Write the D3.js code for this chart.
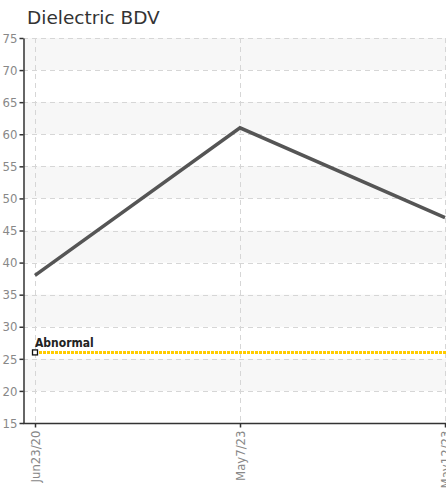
<!DOCTYPE html>
<html><head><meta charset="utf-8">
<script src="https://cdn.jsdelivr.net/npm/d3@7"></script>
<style>body{margin:0;background:#fff;overflow:hidden}</style>
</head><body>
<svg id="c" width="446" height="488"></svg>
<script>
const categories = ["Jun23/20", "May7/23", "May12/23"];
const values = [38, 61, 47];
const yTicks = [15, 20, 25, 30, 35, 40, 45, 50, 55, 60, 65, 70, 75];
const thresholdLabel = "Abnormal";
const thresholdValue = 26;
const title = "Dielectric BDV";

const svg = d3.select("#c");
const mLeft = 23, mRight = 446, mTop = 38, mBottom = 423;
const x = d3.scalePoint().domain(categories).range([35, 445]);
const y = d3.scaleLinear().domain([15, 75]).range([mBottom, mTop]);
const tickFont = "'Liberation Sans Narrow', 'DejaVu Sans Condensed', sans-serif";

svg.append("text").attr("x", 27).attr("y", 24).text(title)
  .attr("font-family", "'DejaVu Sans', sans-serif").attr("font-size", 18.5).attr("fill", "#333");

// alternating bands
const bands = svg.append("g");
for (let i = 0; i < yTicks.length - 1; i++) {
  const lo = yTicks[i], hi = yTicks[i + 1];
  if (i % 2 === 1) {
    bands.append("rect").attr("x", mLeft).attr("width", mRight - mLeft)
      .attr("y", y(hi)).attr("height", y(lo) - y(hi)).attr("fill", "#f7f7f7");
  }
}

// grid
const grid = svg.append("g").attr("stroke", "#d6d6d6").attr("stroke-dasharray", "5,4").attr("stroke-width", 1);
yTicks.slice(1).forEach(t => grid.append("line").attr("x1", mLeft).attr("x2", mRight)
  .attr("y1", Math.round(y(t)) + 0.5).attr("y2", Math.round(y(t)) + 0.5));
categories.forEach(c => grid.append("line").attr("x1", Math.round(x(c)) + 0.5).attr("x2", Math.round(x(c)) + 0.5)
  .attr("y1", mTop).attr("y2", mBottom));

// y axis
const ya = svg.append("g").attr("transform", `translate(${mLeft + 0.5},0)`)
  .call(d3.axisLeft(y).tickValues(yTicks).tickSize(4).tickSizeOuter(0).tickPadding(2));
ya.select(".domain").attr("stroke", "#333").attr("stroke-width", 1.5);
ya.selectAll(".tick line").attr("stroke", "#333").attr("stroke-width", 1.5);
ya.selectAll("text").attr("font-family", tickFont).attr("font-size", 13).attr("fill", "#888");

// x axis
const xa = svg.append("g").attr("transform", `translate(0,${mBottom + 0.5})`)
  .call(d3.axisBottom(x).tickSize(4).tickSizeOuter(0));
xa.select(".domain").attr("d", `M${mLeft},0H${mRight}`).attr("stroke", "#333").attr("stroke-width", 1.5);
xa.selectAll(".tick line").attr("stroke", "#333").attr("stroke-width", 1.5);
xa.selectAll("text").attr("font-family", tickFont).attr("font-size", 13).attr("fill", "#888")
  .attr("transform", "rotate(-90)").attr("text-anchor", "end").attr("x", -7).attr("y", 0).attr("dy", "0.35em");

// threshold
svg.append("line").attr("x1", x(categories[0])).attr("x2", mRight)
  .attr("y1", y(thresholdValue)).attr("y2", y(thresholdValue))
  .attr("stroke", "#ffcc00").attr("stroke-width", 3).attr("stroke-dasharray", "3,1");
svg.append("rect").attr("x", x(categories[0]) - 2.5).attr("y", y(thresholdValue) - 2.5)
  .attr("width", 5).attr("height", 5).attr("fill", "#fff").attr("stroke", "#111").attr("stroke-width", 1.3);
svg.append("text").attr("x", x(categories[0])).attr("y", y(thresholdValue) - 5).text(thresholdLabel)
  .attr("font-family", tickFont).attr("font-size", 12).attr("font-weight", "bold").attr("fill", "#222");

// series line
svg.append("path").datum(values.map((v, i) => [categories[i], v]))
  .attr("d", d3.line().x(d => x(d[0])).y(d => y(d[1])))
  .attr("fill", "none").attr("stroke", "#555").attr("stroke-width", 3.5);
</script>
</body></html>
